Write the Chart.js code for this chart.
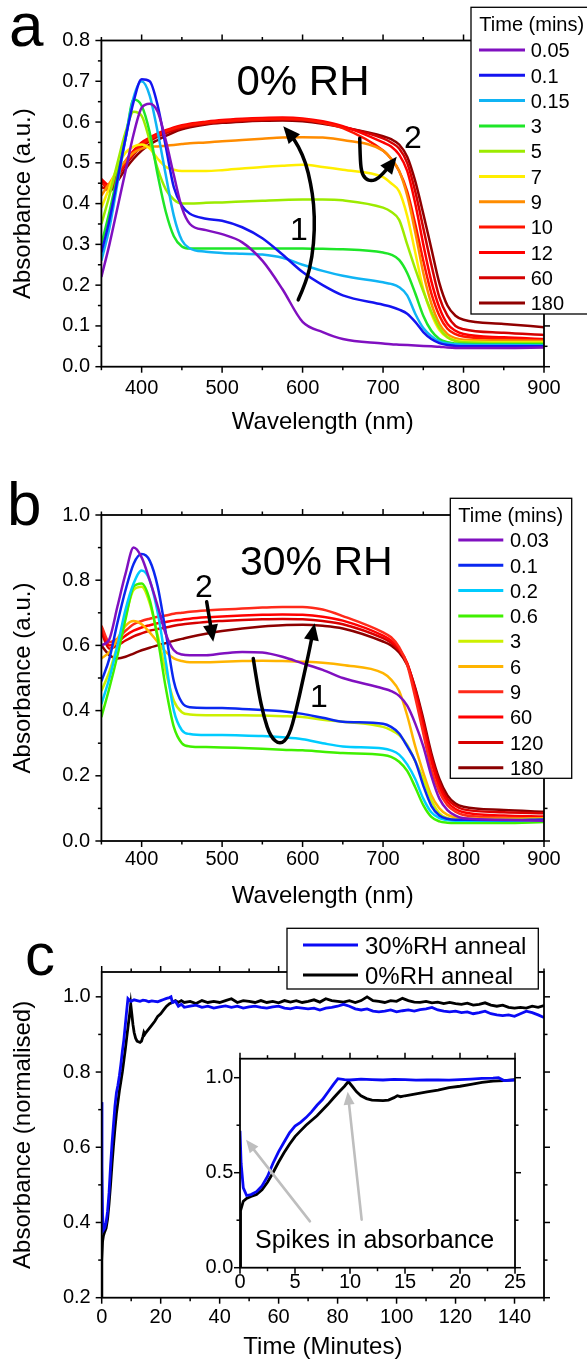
<!DOCTYPE html>
<html><head><meta charset="utf-8">
<script src="https://cdn.jsdelivr.net/npm/chart.js@4.4.1/dist/chart.umd.min.js"></script>
<style>
html,body{margin:0;padding:0;background:#fff;}
body{width:587px;height:1368px;position:relative;overflow:hidden;}
canvas{position:absolute;}
</style></head><body>
<canvas id="ca" width="587" height="445" style="left:0;top:0"></canvas>
<canvas id="cb" width="587" height="460" style="left:0;top:470px"></canvas>
<canvas id="cc" width="587" height="448" style="left:0;top:920px"></canvas>
<canvas id="ci" width="340" height="260" style="left:190px;top:1040px"></canvas>
<script>
// ---------------- DATA ----------------
const wavelength = [350,360,370,380,390,400,410,420,430,440,450,460,480,500,525,550,575,600,625,650,700,710,720,730,740,750,760,770,780,790,800,850,900];

// Panel a (0% RH) time labels and spectra
const timesA = ['0.05','0.1','0.15','3','5','7','9','10','12','60','180'];
const a_0_05 = [0.22,0.30,0.39,0.48,0.57,0.635,0.645,0.625,0.555,0.47,0.39,0.35, 0.335,0.325,0.305,0.26,0.19,0.11,0.085,0.068, 0.057,0.055,0.054,0.053,0.052,0.051,0.05,0.049,0.047,0.046,0.046, 0.046,0.047];
const a_0_1  = [0.28,0.36,0.46,0.56,0.65,0.705,0.70,0.64,0.54,0.44,0.395,0.375, 0.363,0.358,0.342,0.315,0.275,0.232,0.20,0.175, 0.152,0.147,0.14,0.13,0.11,0.085,0.068,0.058,0.053,0.051,0.05, 0.05,0.05];
const a_0_15 = [0.26,0.34,0.45,0.56,0.66,0.70,0.665,0.575,0.47,0.37,0.31,0.29, 0.282,0.279,0.277,0.275,0.267,0.25,0.235,0.223, 0.207,0.203,0.195,0.175,0.13,0.095,0.075,0.062,0.057,0.055,0.054, 0.053,0.052];
const a_3    = [0.30,0.38,0.47,0.56,0.655,0.64,0.575,0.47,0.38,0.32,0.295,0.29, 0.29,0.29,0.29,0.29,0.29,0.29,0.289,0.288, 0.28,0.275,0.262,0.23,0.18,0.125,0.088,0.068,0.06,0.057,0.056, 0.055,0.055];
const a_5    = [0.35,0.42,0.50,0.575,0.625,0.615,0.555,0.485,0.435,0.41,0.40,0.40, 0.402,0.403,0.405,0.407,0.409,0.41,0.41,0.408, 0.39,0.38,0.36,0.30,0.24,0.185,0.135,0.095,0.072,0.063,0.06, 0.058,0.058];
const a_7    = [0.39,0.44,0.49,0.525,0.54,0.545,0.535,0.51,0.49,0.483,0.48,0.48, 0.48,0.482,0.486,0.49,0.493,0.495,0.49,0.483, 0.465,0.45,0.43,0.37,0.28,0.19,0.13,0.09,0.072,0.065,0.062, 0.06,0.06];
const a_9    = [0.42,0.45,0.48,0.505,0.525,0.535,0.54,0.54,0.542,0.544,0.546,0.548, 0.55,0.553,0.556,0.559,0.562,0.563,0.562,0.556, 0.53,0.51,0.48,0.42,0.33,0.23,0.155,0.105,0.08,0.07,0.066, 0.064,0.063];
const a_10   = [0.45,0.44,0.47,0.50,0.525,0.545,0.558,0.568,0.577,0.584,0.589,0.593, 0.598,0.602,0.605,0.607,0.608,0.606,0.598,0.585, 0.53,0.51,0.48,0.43,0.35,0.26,0.18,0.125,0.093,0.08,0.074, 0.068,0.065];
const a_12   = [0.46,0.445,0.475,0.505,0.53,0.55,0.562,0.572,0.58,0.587,0.592,0.596, 0.601,0.605,0.608,0.61,0.611,0.609,0.602,0.59, 0.55,0.54,0.52,0.48,0.40,0.30,0.21,0.145,0.105,0.088,0.08, 0.072,0.068];
const a_60   = [0.44,0.435,0.465,0.495,0.52,0.54,0.553,0.564,0.573,0.58,0.586,0.59, 0.596,0.60,0.603,0.605,0.606,0.605,0.598,0.588, 0.56,0.55,0.535,0.50,0.43,0.34,0.25,0.17,0.125,0.10,0.092, 0.083,0.078];
const a_180  = [0.46,0.43,0.455,0.485,0.51,0.53,0.545,0.556,0.566,0.575,0.582,0.587, 0.594,0.598,0.601,0.603,0.604,0.602,0.596,0.587, 0.565,0.558,0.545,0.515,0.455,0.375,0.29,0.205,0.15,0.125,0.115, 0.105,0.097];

// Panel b (30% RH)
const timesB = ['0.03','0.1','0.2','0.6','3','6','9','60','120','180'];
const b_0_03 = [0.60,0.62,0.72,0.82,0.90,0.87,0.80,0.72,0.635,0.585,0.572,0.57, 0.57,0.575,0.58,0.578,0.565,0.545,0.525,0.50, 0.468,0.46,0.445,0.415,0.36,0.29,0.20,0.13,0.095,0.078,0.07, 0.065,0.062];
const b_0_1  = [0.49,0.56,0.67,0.77,0.85,0.88,0.86,0.78,0.64,0.49,0.425,0.41, 0.408,0.408,0.405,0.402,0.398,0.39,0.378,0.366, 0.36,0.35,0.33,0.29,0.245,0.17,0.108,0.078,0.068,0.065,0.065, 0.064,0.066];
const b_0_2  = [0.42,0.50,0.60,0.71,0.79,0.83,0.80,0.70,0.55,0.40,0.34,0.328, 0.325,0.325,0.324,0.322,0.318,0.312,0.30,0.29, 0.284,0.278,0.265,0.235,0.19,0.13,0.088,0.07,0.064,0.062,0.062, 0.062,0.064];
const b_0_6  = [0.38,0.47,0.57,0.68,0.78,0.79,0.74,0.62,0.47,0.35,0.30,0.29, 0.288,0.287,0.285,0.283,0.28,0.278,0.274,0.27, 0.264,0.258,0.243,0.215,0.165,0.11,0.074,0.06,0.056,0.055,0.055, 0.055,0.058];
const b_3    = [0.46,0.52,0.60,0.69,0.77,0.78,0.73,0.63,0.52,0.43,0.395,0.388, 0.386,0.386,0.386,0.385,0.383,0.38,0.372,0.366, 0.35,0.34,0.325,0.295,0.245,0.19,0.125,0.085,0.07,0.066,0.065, 0.065,0.065];
const b_6    = [0.56,0.58,0.62,0.66,0.675,0.665,0.64,0.61,0.58,0.56,0.552,0.548, 0.548,0.55,0.552,0.553,0.552,0.55,0.547,0.54, 0.515,0.495,0.46,0.385,0.29,0.21,0.14,0.10,0.08,0.072,0.07, 0.068,0.07];
const b_9    = [0.66,0.61,0.62,0.645,0.665,0.675,0.682,0.688,0.692,0.697,0.70,0.703, 0.707,0.71,0.713,0.716,0.718,0.718,0.71,0.69, 0.64,0.625,0.595,0.54,0.44,0.33,0.22,0.15,0.11,0.09,0.08, 0.072,0.068];
const b_60   = [0.65,0.60,0.61,0.63,0.645,0.655,0.662,0.668,0.672,0.676,0.679,0.682, 0.686,0.689,0.692,0.694,0.695,0.694,0.688,0.676, 0.63,0.615,0.59,0.545,0.455,0.35,0.245,0.165,0.12,0.098,0.088, 0.078,0.075];
const b_120  = [0.64,0.59,0.60,0.615,0.628,0.637,0.645,0.65,0.655,0.66,0.664,0.667, 0.672,0.675,0.678,0.68,0.681,0.68,0.675,0.665, 0.622,0.608,0.585,0.545,0.465,0.365,0.26,0.18,0.13,0.108,0.097, 0.088,0.085];
const b_180  = [0.60,0.57,0.56,0.565,0.575,0.585,0.593,0.60,0.607,0.614,0.62,0.626, 0.636,0.644,0.652,0.658,0.662,0.663,0.66,0.652, 0.612,0.60,0.578,0.54,0.47,0.375,0.27,0.19,0.14,0.115,0.105, 0.095,0.09];

// Panel c: normalised absorbance vs time
const seriesC = ['30%RH anneal','0%RH anneal'];
const timeBlue = [0,0.1,0.3,0.6,1,1.5,2,2.5,3,3.5,4,4.5,5,5.5,6,6.5,7,7.5,8,8.5,8.9,9.5,10,11,12,13,14,15,16,17,18,19,20,21,22,23,23.5,24,25,26,27,28,30,32,34,36,38,40,42,44,46,48,50,52,54,56,58,60,62,64,66,68,70,72,74,76,78,80,82,84,86,88,90,92,94,96,98,100,102,104,106,108,110,112,114,116,118,120,122,124,126,128,130,132,134,136,138,140,142,144,146,148,150];
const blueC = [0.72,0.55,0.42,0.38,0.385,0.40,0.43,0.48,0.55,0.61,0.66,0.71,0.745,0.765,0.79,0.82,0.855,0.885,0.925,0.965,0.995,0.99,0.988,0.992,0.99,0.988,0.991,0.99,0.987,0.989,0.988,0.987,0.99,0.993,0.996,0.998,1.0,0.985,0.988,0.975,0.98,0.972,0.975,0.978,0.972,0.975,0.97,0.973,0.976,0.972,0.975,0.97,0.973,0.975,0.972,0.97,0.973,0.975,0.97,0.968,0.972,0.97,0.968,0.97,0.965,0.97,0.972,0.975,0.98,0.975,0.968,0.965,0.968,0.962,0.96,0.962,0.965,0.96,0.963,0.965,0.962,0.966,0.968,0.972,0.965,0.962,0.96,0.962,0.958,0.96,0.955,0.958,0.962,0.955,0.952,0.95,0.952,0.948,0.955,0.962,0.958,0.952,0.945];
const timeBlack = [0,0.05,0.3,0.6,1,1.5,2,2.5,3,3.5,4,4.5,5,5.5,6,6.5,7,7.5,8,8.5,9,9.5,9.85,10.2,10.6,11,11.5,12,13,13.5,14,14.3,14.6,15,16,17,18,19,20,21,22,23,24,25,26,27,28,30,32,34,36,38,40,42,44,46,48,50,52,54,56,58,60,62,64,66,68,70,72,74,76,78,80,82,84,86,88,90,92,94,96,98,100,102,104,106,108,110,112,114,116,118,120,122,124,126,128,130,132,134,136,138,140,142,144,146,148,150];
const blackC = [0.0,0.30,0.35,0.365,0.375,0.385,0.41,0.45,0.50,0.555,0.605,0.65,0.69,0.72,0.75,0.775,0.80,0.83,0.86,0.893,0.925,0.955,0.98,0.955,0.926,0.905,0.89,0.882,0.879,0.882,0.895,0.905,0.90,0.905,0.915,0.925,0.935,0.948,0.955,0.965,0.975,0.982,0.985,0.99,0.985,0.99,0.985,0.988,0.982,0.99,0.985,0.988,0.985,0.99,0.995,0.985,0.99,0.988,0.985,0.99,0.985,0.988,0.984,0.99,0.986,0.99,0.985,0.988,0.992,0.986,0.995,0.99,0.988,0.986,0.99,0.985,0.99,1.0,0.99,0.988,0.985,0.99,0.988,0.996,0.99,0.986,0.985,0.988,0.984,0.986,0.982,0.985,0.982,0.98,0.983,0.978,0.98,0.984,0.978,0.975,0.978,0.972,0.97,0.972,0.97,0.975,0.972,0.977];

// Tick values
const abXTicks = [400,500,600,700,800,900];
const abXMinor = [350,450,550,650,750,850];
const aYTicks = [0,0.1,0.2,0.3,0.4,0.5,0.6,0.7,0.8];
const aYMinor = [0.05,0.15,0.25,0.35,0.45,0.55,0.65,0.75];
const bYTicks = [0,0.2,0.4,0.6,0.8,1.0];
const bYMinor = [0.1,0.3,0.5,0.7,0.9];
const cXTicks = [0,20,40,60,80,100,120,140];
const cXMinor = [10,30,50,70,90,110,130,150];
const cYTicks = [0.2,0.4,0.6,0.8,1.0];
const cYMinor = [0.3,0.5,0.7,0.9];
const iXTicks = [0,5,10,15,20,25];
const iXMinor = [2.5,7.5,12.5,17.5,22.5];
const iYTicks = [0,0.5,1.0];
const iYMinor = [0.25,0.75];

// ---------------- STYLE / DRAW ----------------
const FONT = '"Liberation Sans", Arial, Helvetica, sans-serif';
Chart.defaults.font.family = FONT;
Chart.defaults.color = '#000';

function drawArrow(ctx, P, a) {
  ctx.save();
  ctx.strokeStyle = a.color; ctx.fillStyle = a.color; ctx.lineWidth = a.width;
  ctx.lineCap = 'round'; ctx.lineJoin = 'round';
  const n = P.length;
  const [tx, ty] = P[n-1], [px, py] = P[n-2];
  const ang = Math.atan2(ty - py, tx - px);
  const hl = a.head, hw = a.headW;
  const end = [tx - Math.cos(ang) * hl * 0.8, ty - Math.sin(ang) * hl * 0.8];
  const Q = P.slice(0, n-1).concat([end]);
  ctx.beginPath(); ctx.moveTo(Q[0][0], Q[0][1]);
  if (Q.length === 2) ctx.lineTo(Q[1][0], Q[1][1]);
  else {
    for (let i = 1; i < Q.length - 1; i++) {
      const mx = (Q[i][0] + Q[i+1][0]) / 2, my = (Q[i][1] + Q[i+1][1]) / 2;
      ctx.quadraticCurveTo(Q[i][0], Q[i][1], mx, my);
    }
    ctx.lineTo(Q[Q.length-1][0], Q[Q.length-1][1]);
  }
  ctx.stroke();
  ctx.beginPath();
  ctx.moveTo(tx, ty);
  ctx.lineTo(tx - Math.cos(ang)*hl + Math.sin(ang)*hw, ty - Math.sin(ang)*hl - Math.cos(ang)*hw);
  ctx.lineTo(tx - Math.cos(ang)*hl - Math.sin(ang)*hw, ty - Math.sin(ang)*hl + Math.cos(ang)*hw);
  ctx.closePath(); ctx.fill();
  ctx.restore();
}

const frameTicks = {
  id: 'frameTicks',
  afterDraw(chart, args, o) {
    const { ctx, chartArea: ca, scales } = chart;
    const xs = scales.x, ys = scales.y;
    const ox = o.offX || 0, oy = o.offY || 0;
    ctx.save();
    ctx.strokeStyle = '#000';
    const seg = (x1, y1, x2, y2) => { ctx.beginPath(); ctx.moveTo(x1, y1); ctx.lineTo(x2, y2); ctx.stroke(); };
    ctx.lineWidth = 1.5;
    const xt = (vals, L) => vals.forEach(v => { const p = xs.getPixelForValue(v); seg(p, ca.bottom, p, ca.bottom + L); seg(p, ca.top, p, ca.top - L); });
    const yt = (vals, L) => vals.forEach(v => { const p = ys.getPixelForValue(v); seg(ca.left, p, ca.left - L, p); seg(ca.right, p, ca.right + L, p); });
    xt(o.xMajor, o.major); xt(o.xMinor, o.minor);
    yt(o.yMajor, o.major); yt(o.yMinor, o.minor);
    ctx.lineWidth = 1.8;
    ctx.strokeRect(ca.left, ca.top, ca.right - ca.left, ca.bottom - ca.top);
    (o.arrows || []).forEach(a => drawArrow(ctx, a.pts.map(([x, y]) => [xs.getPixelForValue(x), ys.getPixelForValue(y)]), a));
    ctx.textAlign = 'left'; ctx.textBaseline = 'alphabetic'; ctx.fillStyle = '#000';
    if (o.legend) {
      const L = o.legend;
      ctx.fillStyle = '#fff';
      ctx.fillRect(L.x - ox, L.y - oy, L.w, L.h);
      ctx.lineWidth = 1.3; ctx.strokeStyle = '#000';
      ctx.strokeRect(L.x - ox, L.y - oy, L.w, L.h);
      ctx.fillStyle = '#000';
      ctx.font = L.size + 'px ' + FONT;
      if (L.title) ctx.fillText(L.title, L.titleX - ox, L.titleY - oy);
      chart.data.datasets.forEach((ds, i) => {
        const y = L.firstY + i * L.step - oy;
        ctx.strokeStyle = ds.borderColor; ctx.lineWidth = L.lw;
        seg(L.lineX1 - ox, y, L.lineX2 - ox, y);
        ctx.fillText(ds.label, L.textX - ox, y + L.base);
      });
    }
    (o.texts || []).forEach(t => {
      ctx.font = t.size + 'px ' + FONT; ctx.fillStyle = '#000';
      ctx.fillText(t.text, t.x - ox, t.y - oy);
    });
    ctx.restore();
  }
};

function makeChart(id, datasets, c) {
  return new Chart(document.getElementById(id), {
    type: 'line',
    data: { datasets },
    options: {
      responsive: false, animation: false, devicePixelRatio: 1, events: [],
      layout: { padding: { top: c.padTop, right: c.padRight, left: 0, bottom: 0 } },
      plugins: { legend: { display: false }, tooltip: { enabled: false }, frameTicks: c.decor },
      scales: {
        x: {
          type: 'linear', min: c.xMin, max: c.xMax,
          afterBuildTicks: s => { s.ticks = c.xTicks.map(v => ({ value: v })); },
          afterFit: s => { s.height = c.xAxisH; },
          grid: { display: false, drawTicks: false }, border: { display: false },
          ticks: { padding: c.xPad, autoSkip: false, maxRotation: 0, minRotation: 0, font: { size: 20 }, color: '#000', callback: v => String(v) },
          title: c.xTitle ? { display: true, text: c.xTitle, color: '#000', font: { size: 24 }, padding: { top: 0, bottom: c.xTitlePad } } : { display: false }
        },
        y: {
          type: 'linear', min: c.yMin, max: c.yMax,
          afterBuildTicks: s => { s.ticks = c.yTicks.map(v => ({ value: v })); },
          afterFit: s => { s.width = c.yAxisW; },
          grid: { display: false, drawTicks: false }, border: { display: false },
          ticks: { padding: c.yPad, autoSkip: false, font: { size: 20 }, color: '#000', callback: v => Number(v).toFixed(1) },
          title: c.yTitle ? { display: true, text: c.yTitle, color: '#000', font: { size: 24 }, padding: { top: 9, bottom: 0 } } : { display: false }
        }
      }
    },
    plugins: [frameTicks]
  });
}

const spec = (vals, label, color) => ({
  label, data: wavelength.map((w, i) => ({ x: w, y: vals[i] })),
  borderColor: color, backgroundColor: color, borderWidth: 2.5,
  pointRadius: 0, fill: false, cubicInterpolationMode: 'monotone'
});

// ---------- Panel a ----------
const colorsA = ['#8010C0','#1414F0','#10B4F4','#1EE628','#9CEB00','#FFEE00','#FF8C00','#FF1400','#FF0000','#D40000','#900000'];
const valsA = [a_0_05,a_0_1,a_0_15,a_3,a_5,a_7,a_9,a_10,a_12,a_60,a_180];
makeChart('ca', valsA.map((v, i) => spec(v, timesA[i], colorsA[i])), {
  padTop: 40.5, padRight: 43, xMin: 350, xMax: 900, yMin: 0, yMax: 0.8,
  xTicks: abXTicks, yTicks: aYTicks, xAxisH: 78.3, yAxisW: 101.4, xPad: 9.6, yPad: 11.4,
  xTitle: 'Wavelength (nm)', xTitlePad: 8.6, yTitle: 'Absorbance (a.u.)',
  decor: {
    offX: 0, offY: 0, major: 6, minor: 3.5,
    xMajor: abXTicks, xMinor: abXMinor, yMajor: aYTicks, yMinor: aYMinor,
    arrows: [
      { pts: [[594.6,0.164],[605,0.21],[612,0.27],[615,0.335],[614,0.40],[610,0.45],[604,0.50],[595,0.54],[586,0.567],[576,0.59]], color: '#000', width: 3.5, head: 17, headW: 7.5 },
      { pts: [[671,0.56],[671.5,0.515],[673,0.478],[678,0.46],[686,0.455],[695,0.463],[705,0.485],[717,0.515]], color: '#000', width: 3.5, head: 17, headW: 7.5 }
    ],
    legend: { x: 471, y: 7.3, w: 125, h: 306.7, size: 20, title: 'Time (mins)', titleX: 479.3, titleY: 31, firstY: 50, step: 25.3, lineX1: 479, lineX2: 525, lw: 3, textX: 530.7, base: 7.2 },
    texts: [
      { text: 'a', x: 9, y: 46, size: 62 },
      { text: '0% RH', x: 236.5, y: 95, size: 42 },
      { text: '1', x: 290, y: 240, size: 32 },
      { text: '2', x: 404, y: 148, size: 32 }
    ]
  }
});

// ---------- Panel b ----------
const colorsB = ['#8010C0','#0A28F0','#00CCFF','#40F000','#CCF000','#FFB400','#FF2A1A','#FF0000','#D80000','#8B0000'];
const valsB = [b_0_03,b_0_1,b_0_2,b_0_6,b_3,b_6,b_9,b_60,b_120,b_180];
makeChart('cb', valsB.map((v, i) => spec(v, timesB[i], colorsB[i])), {
  padTop: 45, padRight: 43, xMin: 350, xMax: 900, yMin: 0, yMax: 1.0,
  xTicks: abXTicks, yTicks: bYTicks, xAxisH: 89, yAxisW: 101.4, xPad: 6, yPad: 11.4,
  xTitle: 'Wavelength (nm)', xTitlePad: 19.6, yTitle: 'Absorbance (a.u.)',
  decor: {
    offX: 0, offY: 470, major: 6, minor: 3.5,
    xMajor: abXTicks, xMinor: abXMinor, yMajor: bYTicks, yMinor: bYMinor,
    arrows: [
      { pts: [[480.8,0.734],[489,0.611]], color: '#000', width: 3.5, head: 17, headW: 7.5 },
      { pts: [[538.7,0.56],[545,0.46],[552,0.38],[560,0.32],[572,0.295],[583,0.32],[592,0.40],[600,0.49],[608,0.58],[615,0.668]], color: '#000', width: 3.5, head: 17, headW: 7.5 }
    ],
    legend: { x: 450.3, y: 498.3, w: 121.4, h: 280, size: 20, title: 'Time (mins)', titleX: 458.3, titleY: 521.7, firstY: 540, step: 25.3, lineX1: 458.3, lineX2: 503.3, lw: 3, textX: 510, base: 7.2 },
    texts: [
      { text: 'b', x: 7, y: 525, size: 62 },
      { text: '30% RH', x: 240, y: 575, size: 41 },
      { text: '2', x: 195, y: 597, size: 32 },
      { text: '1', x: 310, y: 707, size: 32 }
    ]
  }
});

// ---------- Panel c ----------
const lineC = (t, v, label, color) => ({
  label, data: t.map((x, i) => ({ x, y: v[i] })), borderColor: color, backgroundColor: color,
  borderWidth: 2.8, pointRadius: 0, fill: false, tension: 0, clip: 0
});
makeChart('cc', [lineC(timeBlue, blueC, seriesC[0], '#0A0AF5'), lineC(timeBlack, blackC, seriesC[1], '#000000')], {
  padTop: 52, padRight: 43, xMin: 0, xMax: 150, yMin: 0.2, yMax: 1.066,
  xTicks: cXTicks, yTicks: cYTicks, xAxisH: 70.3, yAxisW: 101.7, xPad: 8, yPad: 11,
  xTitle: 'Time (Minutes)', xTitlePad: 6.6, yTitle: 'Absorbance (normalised)',
  decor: {
    offX: 0, offY: 920, major: 6, minor: 3.5,
    xMajor: cXTicks, xMinor: cXMinor, yMajor: cYTicks, yMinor: cYMinor,
    legend: { x: 287, y: 928.3, w: 251.3, h: 60.7, size: 24, firstY: 945, step: 30, lineX1: 303, lineX2: 358, lw: 3, textX: 365, base: 8.6 },
    texts: [ { text: 'c', x: 25, y: 975, size: 60 } ]
  }
});

// ---------- Inset ----------
makeChart('ci', [lineC(timeBlue, blueC, seriesC[0], '#0A0AF5'), lineC(timeBlack, blackC, seriesC[1], '#000000')], {
  padTop: 12.3, padRight: 15, xMin: 0, xMax: 25, yMin: 0, yMax: 1.1,
  xTicks: iXTicks, yTicks: iYTicks, xAxisH: 32.3, yAxisW: 50, xPad: 2.8, yPad: 6.7,
  decor: {
    offX: 190, offY: 1040, major: 6, minor: 3.5,
    xMajor: iXTicks, xMinor: iXMinor, yMajor: iYTicks, yMinor: iYMinor,
    arrows: [
      { pts: [[6.36,0.244],[0.55,0.674]], color: '#BEBEBE', width: 2.6, head: 13, headW: 5.5 },
      { pts: [[11.06,0.253],[9.79,0.926]], color: '#BEBEBE', width: 2.6, head: 13, headW: 5.5 }
    ],
    texts: [ { text: 'Spikes in absorbance', x: 255, y: 1248, size: 25 } ]
  }
});
</script>
</body></html>
